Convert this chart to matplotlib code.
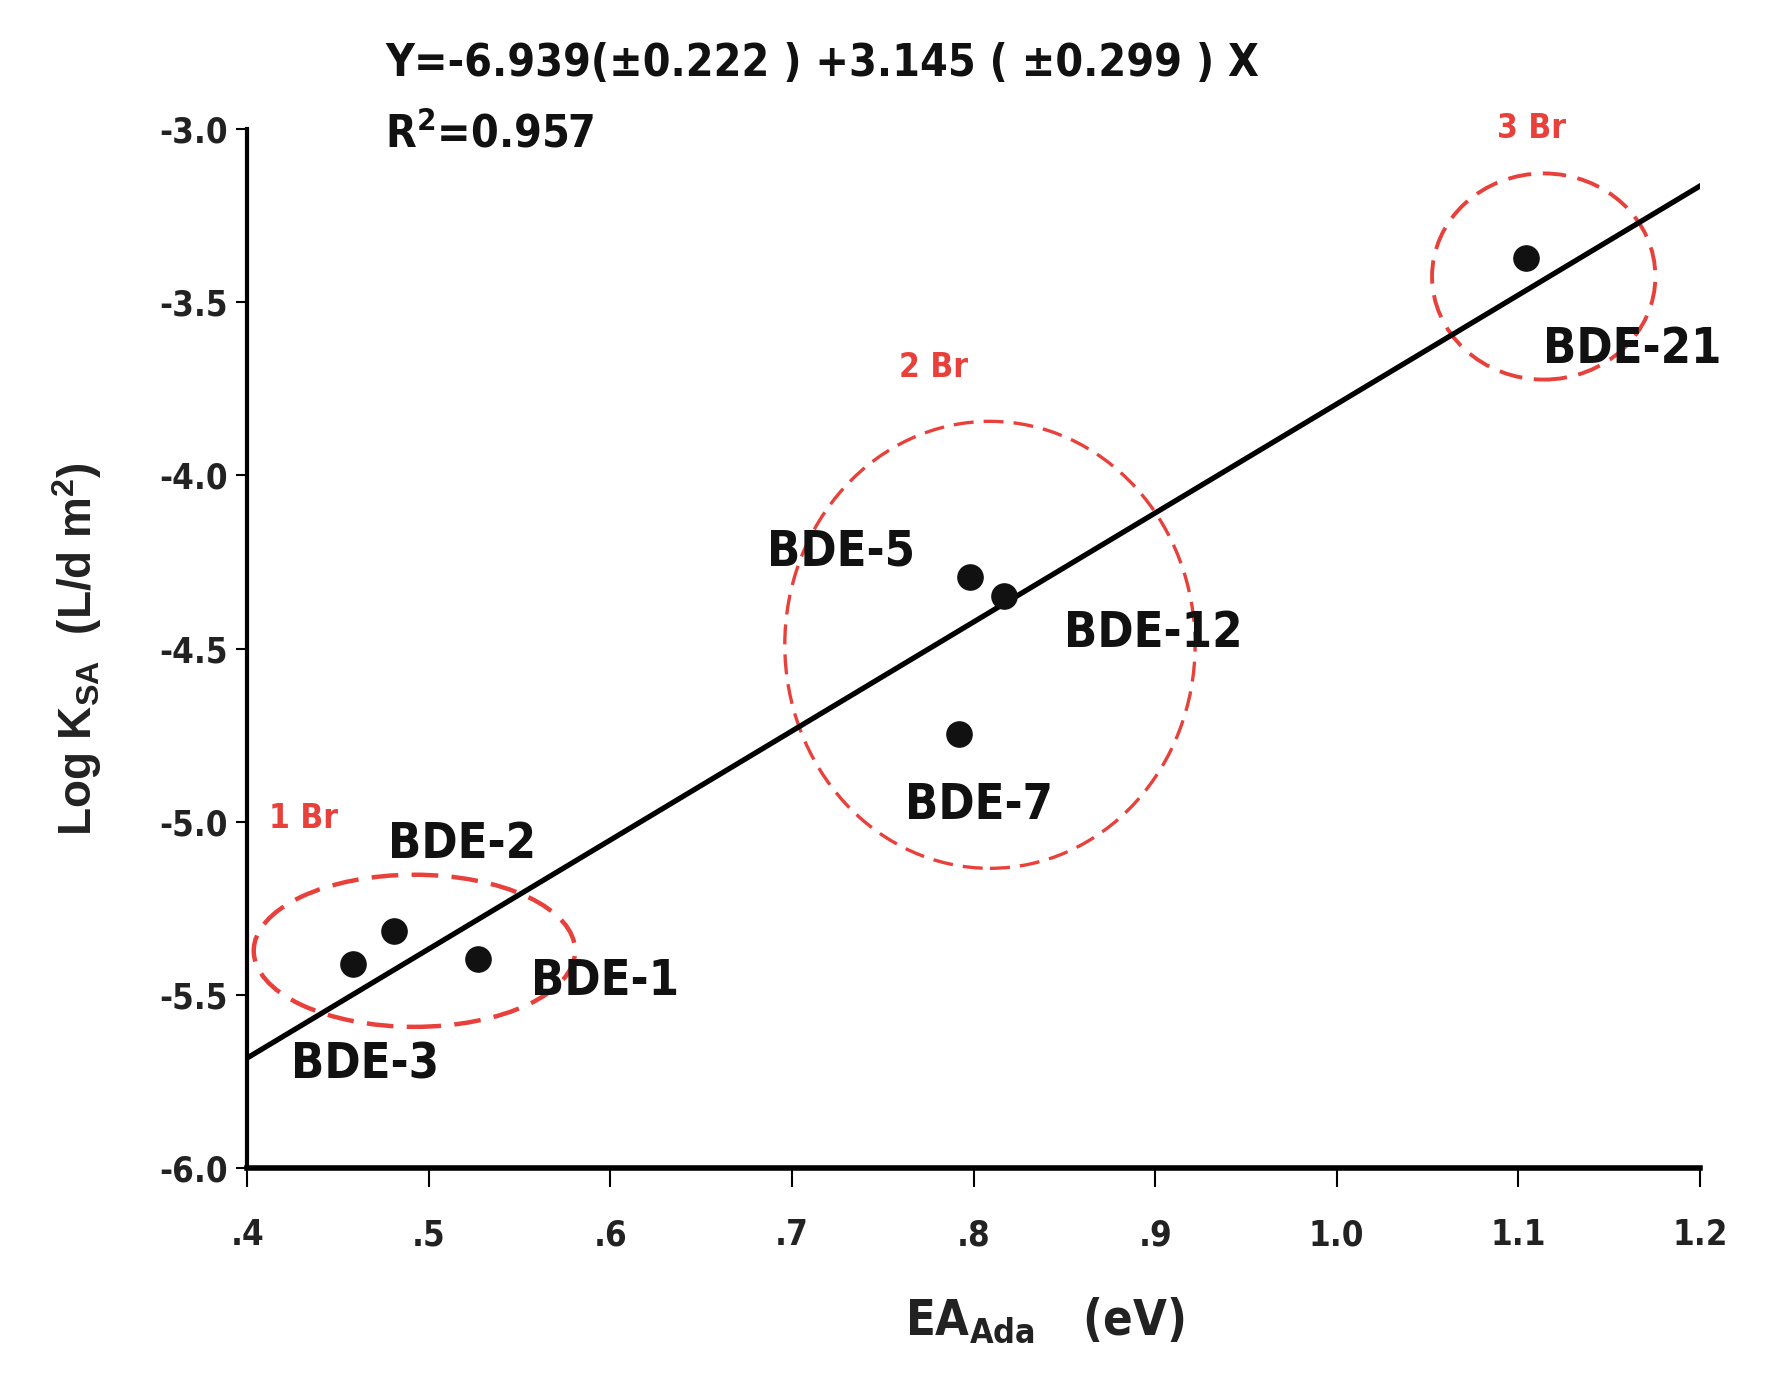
import matplotlib
matplotlib.use("Agg")
import matplotlib.pyplot as plt
from matplotlib.patches import Ellipse

# --- data ---
compounds = ["BDE-3", "BDE-2", "BDE-1", "BDE-5", "BDE-12", "BDE-7", "BDE-21"]
ea_ada = [0.458, 0.481, 0.527, 0.798, 0.817, 0.792, 1.104]
log_ksa = [-5.41, -5.314, -5.395, -4.293, -4.349, -4.745, -3.374]

# label positions (data units)
label_x = [0.465, 0.518, 0.597, 0.727, 0.899, 0.803, 1.163]
label_y = [-5.70, -5.064, -5.46, -4.219, -4.456, -4.95, -3.634]

# regression
intercept = -6.939
slope = 3.145
fit_x = [0.4, 1.2]

# groups by bromine count: centre x, centre y, width, height, label position
groups = ["1 Br", "2 Br", "3 Br"]
group_cx = [0.492, 0.809, 1.114]
group_cy = [-5.372, -4.489, -3.426]
group_w = [0.177, 0.226, 0.123]
group_h = [0.439, 1.29, 0.595]
group_lx = [0.431, 0.778, 1.107]
group_ly = [-4.99, -3.69, -3.0]
group_lw = [3.2, 2.4, 2.8]

xticks = [0.4, 0.5, 0.6, 0.7, 0.8, 0.9, 1.0, 1.1, 1.2]
xticklabels = [".4", ".5", ".6", ".7", ".8", ".9", "1.0", "1.1", "1.2"]
yticks = [-6.0, -5.5, -5.0, -4.5, -4.0, -3.5, -3.0]

cond = dict(family="DejaVu Sans", stretch="condensed", fontweight="bold")
plt.rcParams["mathtext.default"] = "regular"

fig = plt.figure(figsize=(17.67, 13.86), dpi=100)
ax = fig.add_axes([0.140, 0.157, 0.822, 0.750])

ax.plot(fit_x, [intercept + slope * x for x in fit_x], color="black", lw=3.8, zorder=3)
ax.scatter(ea_ada, log_ksa, s=330, color="#111111", zorder=4)

for name, lx, ly in zip(compounds, label_x, label_y):
    ax.text(lx, ly, name, ha="center", va="center", fontsize=35,
            color="#111111", **cond)

for g, cx, cy, w, h, lx, ly, lw in zip(groups, group_cx, group_cy, group_w, group_h,
                                        group_lx, group_ly, group_lw):
    e = Ellipse((cx, cy), w, h, fill=False, edgecolor="#e8403a", lw=lw,
                linestyle=(0, (6, 3)), zorder=2, clip_on=False)
    ax.add_patch(e)
    ax.text(lx, ly, g, ha="center", va="center", fontsize=24,
            color="#e8403a", **cond)

ax.set_xlim(0.4, 1.2)
ax.set_ylim(-6.0, -3.0)
ax.set_xticks(xticks)
ax.set_xticklabels(xticklabels)
ax.set_yticks(yticks)
ax.set_yticklabels([f"{v:.1f}" for v in yticks])

for lab in ax.get_xticklabels() + ax.get_yticklabels():
    lab.set_family("DejaVu Sans")
    lab.set_stretch("condensed")
    lab.set_fontweight("bold")
    lab.set_fontsize(25)
    lab.set_color("#222222")

ax.spines["top"].set_visible(False)
ax.spines["right"].set_visible(False)
ax.spines["left"].set_linewidth(3)
ax.spines["bottom"].set_linewidth(4)
ax.tick_params(axis="x", length=14, width=1.5, pad=22)
ax.tick_params(axis="y", length=8, width=1.5, pad=6)

ax.set_xlabel("EA$_{Ada}$   (eV)", fontsize=35, color="#222222", **cond)
ax.xaxis.set_label_coords(0.549, -0.122)
ax.set_ylabel("Log K$_{SA}$  (L/d m$^{2}$)", fontsize=33, fontweight="bold",
              family=["Liberation Sans", "DejaVu Sans"], labelpad=40, color="#222222")

fig.text(0.218, 0.954, "Y=-6.939(\u00b10.222 ) +3.145 ( \u00b10.299 ) X", fontsize=32,
         va="center", color="#111111", **cond)
fig.text(0.218, 0.903, "R$^{2}$=0.957", fontsize=32,
         va="center", color="#111111", **cond)

fig.savefig("out.png", dpi=100)
